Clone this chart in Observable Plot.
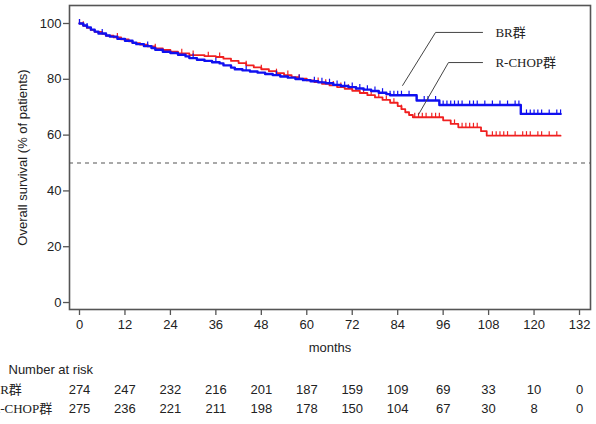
<!DOCTYPE html>
<html>
<head>
<meta charset="utf-8">
<script src="https://cdn.jsdelivr.net/npm/d3@7"></script>
<script src="https://cdn.jsdelivr.net/npm/@observablehq/plot@0.6"></script>
<style>
  html, body { margin: 0; padding: 0; background: #fff; }
  #chart svg { display: block; }
</style>
</head>
<body>
<div id="chart"></div>
<script>
// Kaplan–Meier overall survival, BR vs R-CHOP

const groups = ["BR群", "R-CHOP群"];

// Step points: month at which survival (%) drops to the given level
const brMonths = [0, 1, 2, 3, 4, 5, 7, 8, 10, 12, 14, 15, 17, 19, 20, 22, 24, 26, 28, 29, 31, 33, 35, 37, 38, 40, 41, 43, 45, 47, 49, 51, 53, 55, 57, 59, 61, 63, 65, 67, 69, 71, 73, 75, 77, 79, 81, 82, 89, 95, 116.5, 127];
const brSurv   = [100, 99.3, 98.6, 97.8, 97.1, 96.4, 95.7, 95.3, 94.5, 93.8, 93.1, 92.6, 91.9, 91.2, 90.6, 89.9, 89.4, 88.8, 88.2, 87.6, 87.0, 86.6, 86.1, 85.7, 85.0, 84.2, 83.6, 83.2, 82.8, 82.4, 81.9, 81.5, 81.0, 80.6, 80.1, 79.7, 79.3, 78.9, 78.6, 78.0, 77.6, 77.2, 76.7, 76.3, 75.8, 75.2, 74.7, 74.3, 72.4, 70.8, 67.6, 67.6];

const rcMonths = [0, 1, 2, 3, 4, 6, 7, 9, 11, 13, 14, 16, 18, 20, 22, 24, 26, 29, 33, 36, 38, 40, 42, 44, 46, 48, 50, 52, 54, 56, 58, 60, 62, 64, 66, 68, 70, 72, 74, 76, 78, 80, 82, 84, 85, 86, 87, 88, 96, 98, 100, 106, 107.5, 127];
const rcSurv   = [100, 99.2, 98.4, 97.7, 97.0, 96.3, 95.6, 95.0, 94.3, 93.6, 93.0, 92.4, 91.8, 91.1, 90.5, 89.9, 89.3, 88.7, 88.3, 88.0, 87.4, 86.6, 85.8, 85.0, 84.3, 83.6, 82.9, 82.2, 81.5, 80.8, 80.2, 79.6, 79.0, 78.4, 77.8, 77.2, 76.6, 75.9, 75.1, 74.3, 73.5, 72.6, 71.6, 70.4, 69.3, 68.2, 67.2, 66.4, 65.3, 64.0, 62.8, 61.4, 59.8, 59.8];

// Censoring times (months)
const brCensor = [0, 2, 6, 18, 30, 36, 44, 52, 58, 62, 64, 66, 68, 70, 72, 74, 76, 78, 80, 82, 83, 84, 85, 87, 89, 91, 92, 94, 96, 97, 98, 99, 100, 101, 103, 104, 105, 107, 109, 111, 113, 115, 116, 118, 119, 120, 121, 122, 124, 126, 127];
const rcCensor = [0, 1, 10, 20, 27, 30, 34, 37, 44, 48, 52, 55, 58, 63, 65, 67, 69, 71, 73, 75, 77, 79, 81, 83, 85, 88.5, 89.5, 90.5, 91.5, 93, 94, 95, 99, 101, 102, 103, 104, 105, 109, 110, 111, 112, 113, 115, 117, 118, 119, 121, 122, 124, 126];

// Number at risk
const riskMonths = [0, 12, 24, 36, 48, 60, 72, 84, 96, 108, 120, 132];
const brRisk = [274, 247, 232, 216, 201, 187, 159, 109, 69, 33, 10, 0];
const rcRisk = [275, 236, 221, 211, 198, 178, 150, 104, 67, 30, 8, 0];

const xTicks = [0, 12, 24, 36, 48, 60, 72, 84, 96, 108, 120, 132];
const yTicks = [0, 20, 40, 60, 80, 100];

const colors = { "BR群": "#1010f0", "R-CHOP群": "#f02020" };

const toSteps = (months, surv, group) => months.map((m, i) => ({ month: m, surv: surv[i], group }));
const brSteps = toSteps(brMonths, brSurv, groups[0]);
const rcSteps = toSteps(rcMonths, rcSurv, groups[1]);

const survAt = (steps, t) => {
  let s = steps[0].surv;
  for (const d of steps) if (d.month <= t) s = d.surv;
  return s;
};
const brMarks = brCensor.map(t => ({ month: t, surv: survAt(brSteps, t), group: groups[0] }));
const rcMarks = rcCensor.map(t => ({ month: t, surv: survAt(rcSteps, t), group: groups[1] }));

// Leader lines for the curve labels (month, survival %)
const leaders = [
  { group: groups[0], pts: [[85.3, 77.8], [94.0, 96.8], [106.4, 96.8]] },
  { group: groups[1], pts: [[89.5, 67.4], [97.4, 86.0], [106.4, 86.0]] }
];
const leaderRows = leaders.flatMap(l => l.pts.map(([month, surv]) => ({ month, surv, group: l.group })));
const curveLabels = [
  { month: 109.8, surv: 96.6, text: groups[0] },
  { month: 109.8, surv: 86.0, text: groups[1] }
];

// Upward censor tick
const censorTick = {
  draw(context) {
    context.moveTo(0, 0);
    context.lineTo(0, -4.5);
  }
};

const sans = "'Liberation Sans', Arial, Helvetica, sans-serif";
const serif = "'Liberation Serif', 'Times New Roman', 'Noto Sans CJK JP', serif";
const axisColor = "#555";

const chart = Plot.plot({
  width: 596,
  height: 424,
  marginLeft: 69,
  marginRight: 6,
  marginTop: 5,
  marginBottom: 115,
  style: { fontFamily: sans, fontSize: "13px", color: "#222", background: "#fff" },
  x: { domain: [-2.64, 134.9], ticks: xTicks, label: null },
  y: { domain: [-2.5, 106.45], ticks: yTicks, label: null },
  marks: [
    Plot.axisX({ ticks: xTicks, tickSize: 6, tickPadding: 4, stroke: axisColor, strokeWidth: 1.3, label: null, fontSize: 13 }),
    Plot.axisY({ ticks: yTicks, tickSize: 6, tickPadding: 2, stroke: axisColor, strokeWidth: 1.3, label: null, fontSize: 13 }),
    Plot.frame({ stroke: axisColor, strokeWidth: 1.6 }),
    Plot.ruleY([50], { stroke: "#555", strokeWidth: 1.2, strokeDasharray: "4,4" }),
    Plot.line(rcSteps, { x: "month", y: "surv", curve: "step-after", stroke: colors[groups[1]], strokeWidth: 1.8 }),
    Plot.dot(rcMarks, { x: "month", y: "surv", symbol: censorTick, fill: "none", stroke: colors[groups[1]], strokeWidth: 1.2 }),
    Plot.line(brSteps, { x: "month", y: "surv", curve: "step-after", stroke: colors[groups[0]], strokeWidth: 2.4 }),
    Plot.dot(brMarks, { x: "month", y: "surv", symbol: censorTick, fill: "none", stroke: colors[groups[0]], strokeWidth: 1.2 }),
    Plot.line(leaderRows, { x: "month", y: "surv", z: "group", stroke: "#444", strokeWidth: 1 }),
    Plot.text(curveLabels, { x: "month", y: "surv", text: "text", textAnchor: "start", fontFamily: serif, fontSize: 13, fill: "#222" }),
    // axis titles
    Plot.text(["Overall survival (% of patients)"], { frameAnchor: "left", textAnchor: "middle", rotate: -90, dx: -47, fontSize: 13, fill: "#222" }),
    Plot.text(["months"], { frameAnchor: "bottom", dy: 42, fontSize: 13, fill: "#222" }),
    // number-at-risk table
    Plot.text(["Number at risk"], { frameAnchor: "bottom-left", dx: -61, dy: 64, textAnchor: "start", fontSize: 13, fill: "#222" }),
    Plot.text([groups[0]], { frameAnchor: "bottom-left", dx: -78, dy: 84, textAnchor: "start", fontFamily: serif, fontSize: 13, fill: "#222" }),
    Plot.text([groups[1]], { frameAnchor: "bottom-left", dx: -78, dy: 103, textAnchor: "start", fontFamily: serif, fontSize: 13, fill: "#222" }),
    Plot.text(riskMonths, { x: d => d, text: (d, i) => String(brRisk[i]), frameAnchor: "bottom", dy: 84, fontSize: 13, fill: "#222" }),
    Plot.text(riskMonths, { x: d => d, text: (d, i) => String(rcRisk[i]), frameAnchor: "bottom", dy: 103, fontSize: 13, fill: "#222" })
  ]
});

document.getElementById("chart").append(chart);
</script>
</body>
</html>
